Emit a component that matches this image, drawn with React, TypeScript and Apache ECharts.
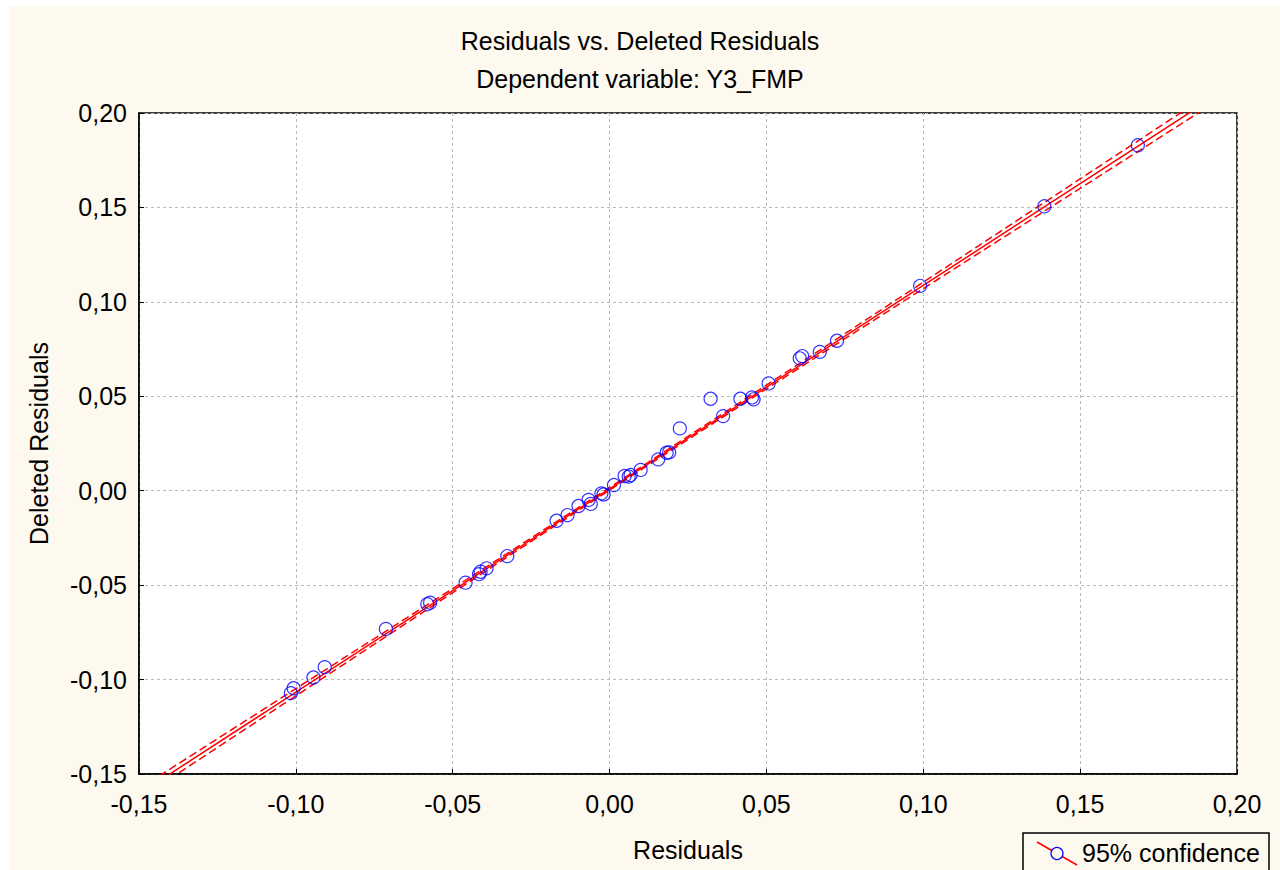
import React, { useEffect, useRef } from "react";
import * as echarts from "echarts";

// Residuals (x) and deleted residuals (y)
const residuals = [
  -0.1016, -0.1007, -0.0944, -0.0908, -0.0713, -0.0581, -0.0572, -0.0459, -0.0416, -0.0411,
  -0.0392, -0.0326, -0.0169, -0.0134, -0.0099, -0.0067, -0.006, -0.0026, -0.0019, 0.0014,
  0.0048, 0.0061, 0.0067, 0.0099, 0.0155, 0.0182, 0.019, 0.0224, 0.0322, 0.0362,
  0.0417, 0.0454, 0.0459, 0.0507, 0.0606, 0.0614, 0.067, 0.0725, 0.099, 0.1386, 0.1684,
];
const deletedResiduals = [
  -0.1072, -0.1046, -0.0989, -0.0934, -0.0732, -0.0601, -0.0593, -0.0487, -0.0442, -0.0429,
  -0.0411, -0.0346, -0.0159, -0.0129, -0.0081, -0.0049, -0.007, -0.0014, -0.002, 0.003,
  0.0078, 0.0075, 0.0083, 0.011, 0.0166, 0.0201, 0.0203, 0.033, 0.0487, 0.0395,
  0.0487, 0.0494, 0.0484, 0.0568, 0.0701, 0.0713, 0.0735, 0.0794, 0.1085, 0.1506, 0.1829,
];

// Fitted line and 95% confidence band
const bandX = [-0.15, -0.1, -0.05, 0, 0.05, 0.1, 0.15, 0.2];
const fitY = [-0.1606, -0.1067, -0.0529, 0.001, 0.0549, 0.1087, 0.1626, 0.2164];
const upperY = [-0.1579, -0.1048, -0.0518, 0.0017, 0.0559, 0.1104, 0.1651, 0.2197];
const lowerY = [-0.1633, -0.1086, -0.054, 0.0003, 0.0539, 0.107, 0.1601, 0.2131];

const xTicks = { min: -0.15, max: 0.2, interval: 0.05 };
const yTicks = { min: -0.15, max: 0.2, interval: 0.05 };

const titleText = "Residuals vs. Deleted Residuals";
const subtitleText = "Dependent variable: Y3_FMP";
const xName = "Residuals";
const yName = "Deleted Residuals";
const legendText = "95% confidence";

const FONT = "'Liberation Sans', Arial, sans-serif";
const BG = "#fdf9ef";

const fmt = (v: number) => {
  const s = (Math.abs(v) < 1e-9 ? 0 : v).toFixed(2);
  return s.replace(".", ",");
};

export default function App() {
  const ref = useRef<HTMLDivElement>(null);
  useEffect(() => {
    if (!ref.current) return;
    const chart = echarts.init(ref.current, undefined, { renderer: "svg" });
    const pts = residuals.map((x, i) => [x, deletedResiduals[i]]);
    const pair = (ys: number[]) => bandX.map((x, i) => [x, ys[i]]);
    const axisText = { color: "#000", fontSize: 25, fontFamily: FONT };
    chart.setOption({
      animation: false,
      backgroundColor: BG,
      textStyle: { fontFamily: FONT },
      grid: {
        left: 130,
        top: 107,
        width: 1098,
        height: 661,
        show: true,
        backgroundColor: "#ffffff",
        borderColor: "#000",
        borderWidth: 1.5,
      },
      xAxis: {
        type: "value",
        min: xTicks.min,
        max: xTicks.max,
        interval: xTicks.interval,
        name: xName,
        nameLocation: "middle",
        nameGap: 63,
        nameTextStyle: axisText,
        axisLine: { show: true, onZero: false, lineStyle: { color: "#000", width: 1.5 } },
        axisTick: { show: true, inside: true, length: 5, lineStyle: { color: "#000" } },
        axisLabel: { ...axisText, margin: 17, formatter: fmt },
        splitLine: { show: true, lineStyle: { color: "#b8b8b8", type: [3, 3], width: 1 } },
      },
      yAxis: {
        type: "value",
        min: yTicks.min,
        max: yTicks.max,
        interval: yTicks.interval,
        name: yName,
        nameLocation: "middle",
        nameGap: 88,
        nameRotate: 90,
        nameTextStyle: axisText,
        axisLine: { show: true, onZero: false, lineStyle: { color: "#000", width: 1.5 } },
        axisTick: { show: true, inside: true, length: 5, lineStyle: { color: "#000" } },
        axisLabel: { ...axisText, margin: 12, formatter: fmt },
        splitLine: { show: true, lineStyle: { color: "#b8b8b8", type: [3, 3], width: 1 } },
      },
      series: [
        {
          type: "line",
          data: pair(fitY),
          symbol: "none",
          clip: true,
          lineStyle: { color: "#ff0000", width: 1.5 },
          z: 3,
        },
        {
          type: "line",
          data: pair(upperY),
          symbol: "none",
          clip: true,
          lineStyle: { color: "#ff0000", width: 1.5, type: [8, 4] },
          z: 3,
        },
        {
          type: "line",
          data: pair(lowerY),
          symbol: "none",
          clip: true,
          lineStyle: { color: "#ff0000", width: 1.5, type: [8, 4] },
          z: 3,
        },
        {
          type: "scatter",
          data: pts,
          symbol: "circle",
          symbolSize: 13,
          itemStyle: { color: "rgba(0,0,0,0)", borderColor: "#0000ff", borderWidth: 1.2 },
          z: 4,
        },
      ],
      graphic: [
        {
          type: "text",
          x: 631,
          y: 35,
          style: { text: titleText, fill: "#000", fontSize: 25, fontFamily: FONT, align: "center", verticalAlign: "middle" },
        },
        {
          type: "text",
          x: 631,
          y: 73,
          style: { text: subtitleText, fill: "#000", fontSize: 25, fontFamily: FONT, align: "center", verticalAlign: "middle" },
        },
        {
          type: "rect",
          shape: { x: 1014, y: 827, width: 246, height: 60 },
          style: { fill: BG, stroke: "#000", lineWidth: 1.5 },
        },
        {
          type: "line",
          shape: { x1: 1028, y1: 836, x2: 1068, y2: 859 },
          style: { stroke: "#ff0000", lineWidth: 1.5 },
        },
        {
          type: "circle",
          shape: { cx: 1048, cy: 847.5, r: 6 },
          style: { fill: BG, stroke: "#0000ff", lineWidth: 1.2 },
        },
        {
          type: "text",
          x: 1073,
          y: 847,
          style: { text: legendText, fill: "#000", fontSize: 25, fontFamily: FONT, align: "left", verticalAlign: "middle" },
        },
      ],
    });
    return () => chart.dispose();
  }, []);
  return (
    <div
      ref={ref}
      style={{ position: "fixed", left: 9, top: 6, width: 1271, height: 864 }}
    />
  );
}
